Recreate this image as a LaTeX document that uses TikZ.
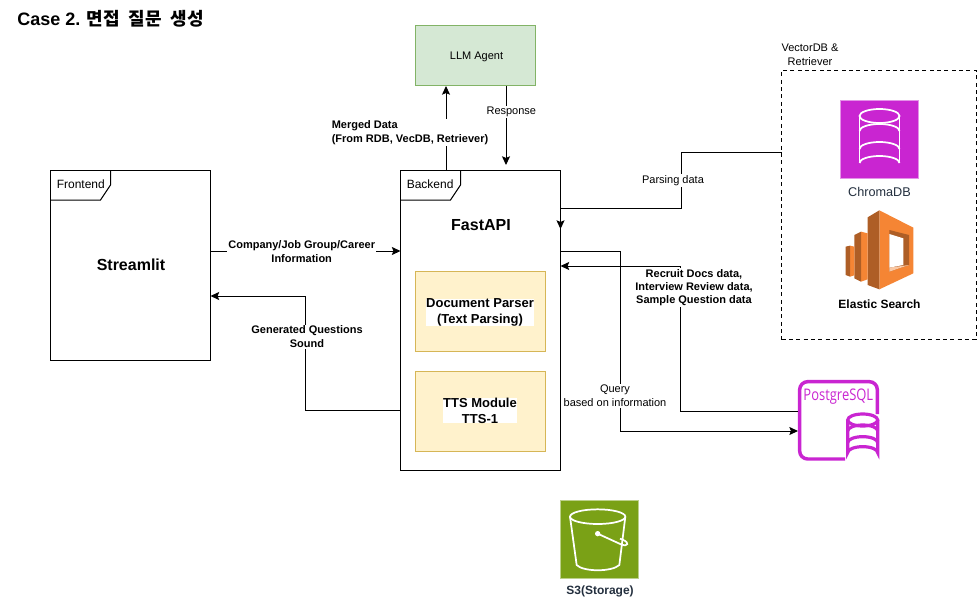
\documentclass[tikz,border=0pt]{standalone}
\usepackage{fontspec}
\setmainfont{Liberation Sans}
\newfontfamily\krfont{Noto Sans CJK KR}
\newfontfamily\pgfont{Open Sans}
\usetikzlibrary{arrows.meta}
\definecolor{zmagenta}{HTML}{C925D1}
\definecolor{zgreen}{HTML}{7AA116}
\definecolor{zorange}{HTML}{F58534}
\definecolor{zbrown}{HTML}{AE5E26}
\definecolor{zslate}{HTML}{232F3E}
\definecolor{zllmfill}{HTML}{D5E8D4}
\definecolor{zllmdraw}{HTML}{82B366}
\definecolor{zmodfill}{HTML}{FFF2CC}
\definecolor{zmoddraw}{HTML}{D6B656}
\tikzset{
 zbox/.style={draw, anchor=north west, inner sep=0, outer sep=0, line width=.75pt},
 zmod/.style={zbox, minimum width=97.5pt, minimum height=60pt, fill=zmodfill, draw=zmoddraw},
 zmodlab/.style={fill=white, inner sep=0, align=center, font=\bfseries\fontsize{9.75}{12}\selectfont},
 ztitle/.style={font=\bfseries\fontsize{12}{15}\selectfont, align=center},
 zlab/.style={fill=white, inner sep=1pt, align=center, font=\fontsize{8.25}{10.5}\selectfont},
 zlabb/.style={zlab, font=\bfseries\fontsize{8.25}{10.5}\selectfont},
 zarr/.style={-{Stealth[length=6.5pt,width=6pt,inset=1.2pt]}, line width=.75pt},
 ztag/.style={anchor=west, inner sep=0, font=\fontsize{9}{11}\selectfont},
 zsquare/.style={anchor=north west, inner sep=0, minimum width=58.5pt, minimum height=58.5pt},
}
\begin{document}
\begin{tikzpicture}[x=.75pt, y=-.75pt]
\useasboundingbox (0,0) rectangle (977,599);
\node[anchor=west, inner sep=0, font=\bfseries\fontsize{13.5}{16}\selectfont] (casetitle) at (17,19) {Case 2. {\krfont 면접\hspace{6.5pt}질문\hspace{6.5pt}생성}};

% boxes
\node[zbox, minimum width=120pt, minimum height=142.5pt] (frontend) at (50.5,170) {};
\node[zbox, minimum width=120pt, minimum height=225pt] (backend) at (400.5,170) {};
\node[zbox, minimum width=90pt, minimum height=45pt, fill=zllmfill, draw=zllmdraw] (llm) at (415.5,26) {};
\node[zmod] (parser) at (415.5,271) {};
\node[zmod] (tts) at (415.5,371) {};
\node[zbox, dash pattern=on 3pt off 2.5pt, minimum width=145.9pt, minimum height=201.75pt] (vectordb) at (781.5,70.5) {};
\node[font=\fontsize{8.25}{10.5}\selectfont, align=center, inner sep=0] (vectorlab) at (810,55) {VectorDB \&\\Retriever};

\node[font=\fontsize{8.25}{10}\selectfont] (llmlab) at ([shift={(1,1)}]llm.center) {LLM Agent};
\node[ztitle] (streamlit) at (131,265) {Streamlit};
\node[ztitle] (fastapi) at (481,225) {FastAPI};
\node[zmodlab, minimum width=81pt] (parserlab) at (480,312.5) {Document Parser\\(Text Parsing)};
\node[zmodlab, minimum width=55.5pt] (ttslab) at (480,410.5) {TTS Module\\TTS-1};

% frame tags
\foreach \zn/\zt in {frontend/Frontend, backend/Backend}{
  \draw[line width=.75pt] (\zn.north west) ++(60,0) -- ++(0,15) -- ++(-10,15) -- ++(-50,0);
  \node[ztag] (\zn tag) at ([shift={(6,14.5)}]\zn.north west) {\zt};
}

% icons
\node[zsquare, draw=zmagenta!50!white, fill=zmagenta] (chroma) at (840,100) {};
\begin{scope}[draw=white, line width=1.3pt]
  \foreach \zy in {131,149,163}{\draw (859.5,\zy) arc[start angle=180, end angle=360, x radius=20, y radius=7];}
  \draw (879.5,116) ellipse[x radius=20, y radius=7];
  \draw (859.5,116) -- (859.5,163) (899.5,116) -- (899.5,163);
\end{scope}
\node[font=\fontsize{9.5}{11}\selectfont, text=zslate] (chromalab) at (879.5,191.5) {ChromaDB};

\coordinate (elastic) at (780,30);
\begin{scope}[shift={(elastic)}, x=.25pt, y=-.25pt]
  \fill[zorange] (298,541) -- (400,593) -- (400,730) -- (298,778) -- cycle;
  \fill[zbrown] (263,562) -- (298,541) -- (298,778) -- (263,765) -- cycle;
  \fill[zbrown] (328,600) -- (387,615) -- (387,705) -- (328,725) -- cycle;
  \fill[zorange!45!white] (328,713) -- (387,705) -- (328,725) -- cycle;
  \fill[white] (328,612) -- (370,625) -- (370,705) -- (328,713) -- cycle;
  \fill[zorange] (243,605) -- (263,610) -- (263,748) -- (243,755) -- cycle;
  \fill[zbrown] (223,615) -- (243,605) -- (243,755) -- (223,745) -- cycle;
  \fill[zorange] (210,647) -- (223,650) -- (223,736) -- (210,740) -- cycle;
  \fill[zbrown] (197,650) -- (210,647) -- (210,740) -- (197,735) -- cycle;
\end{scope}
\node[font=\bfseries\fontsize{9}{11}\selectfont] (elasticlab) at (879.5,304.5) {Elastic Search};

\coordinate (postgres) at (540,370);
\begin{scope}[shift={(postgres)}, x=.25pt, y=-.25pt, draw=zmagenta]
  \draw[line width=2.6pt, rounded corners=6pt] (1012,132) -- (1012,35) -- (779,35) -- (779,267) -- (915,267);
  \draw[line width=2.4pt] (968,150) ellipse[x radius=45, y radius=18];
  \draw[line width=2.4pt] (923,150) -- (923,248) arc[start angle=180, end angle=360, x radius=45, y radius=18] -- (1013,150);
  \draw[line width=2.4pt] (923,183) arc[start angle=180, end angle=360, x radius=45, y radius=18];
  \draw[line width=2.4pt] (923,218) arc[start angle=180, end angle=360, x radius=45, y radius=18];
  \node[text=zmagenta, inner sep=0, font=\pgfont\fontsize{12}{14}\selectfont] (pglab) at (895,80) {\scalebox{.81}[1]{PostgreSQL}};
\end{scope}

\node[zsquare, draw=zgreen!50!white, fill=zgreen] (s3) at (560,500) {};
\begin{scope}[shift={(postgres)}, x=.25pt, y=-.25pt, draw=white, line width=1.3pt]
  \draw (173,440) ellipse[x radius=83, y radius=22];
  \draw (90,440) -- (110,585) .. controls (130,606) and (216,606) .. (238,585) -- (256,440);
  \fill[white] (173,491) circle (8);
  \draw (173,491) -- (245,524) .. controls (265,530) and (268,518) .. (250,510) -- (240,506);
\end{scope}
\node[font=\bfseries\fontsize{9}{11}\selectfont, text=zslate] (s3lab) at (600,591) {S3(Storage)};

% connectors
\draw[zarr] (frontend.east |- 0,251) -- node[zlabb, pos=.48, yshift=-.75pt] {Company/Job Group/Career\\Information} (backend.west |- 0,251);
\draw[zarr] (backend.west |- 0,410) -- (305,410) -- node[zlabb, pos=.64, xshift=1.5pt] {Generated Questions\\Sound} (305,296) -- (frontend.east |- 0,296);
\draw[zarr] (446,0 |- backend.north) -- node[zlabb, pos=.45, xshift=-27pt, align=left] {Merged Data\\(From RDB, VecDB, Retriever)} (446,0 |- llm.south);
\draw[zarr] (506,0 |- llm.south) -- node[zlab, pos=.33, xshift=4pt] {Response} (506,165);
\draw[zarr] (vectordb.west |- 0,153) -- (681,153) -- node[zlab, pos=.5, xshift=-6pt] {Parsing data} (681,208) -- (backend.east |- 0,208) -- (backend.east |- 0,229);
\draw[zarr] (backend.east |- 0,251) -- (620,251) -- node[zlab, pos=.805, xshift=-3.75pt] {Query\\based on information} (620,431) -- (798,431);
\draw[zarr] (798,411) -- (680,411) -- node[zlabb, pos=.85, xshift=10.5pt, font=\bfseries\fontsize{8.25}{9.8}\selectfont] {Recruit Docs data,\\Interview Review data,\\Sample Question data} (680,266) -- (backend.east |- 0,266);
\end{tikzpicture}
\end{document}
